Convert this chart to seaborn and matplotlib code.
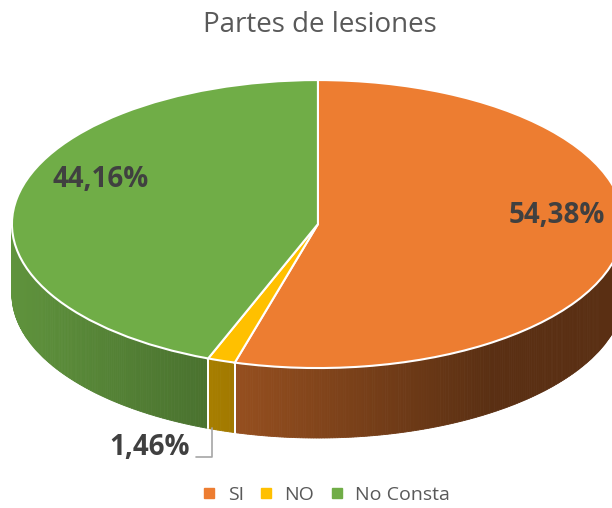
import numpy as np
import matplotlib.pyplot as plt
import seaborn as sns
from matplotlib.patches import Polygon
from matplotlib.lines import Line2D

# data
categories = ['SI', 'NO', 'No Consta']
shares = [54.38, 1.46, 44.16]
colors = ['#ED7D31', '#FFC000', '#70AD47']
label_pos = [(0.78, 0.06), (-0.55, -1.55), (-0.71, 0.31)]
title = 'Partes de lesiones'

sns.set_theme(style='white')
plt.rcParams['font.family'] = ['Open Sans', 'DejaVu Sans']

fig = plt.figure(figsize=(6.12, 5.08), dpi=100)
ax = fig.add_axes([0, 0, 1, 1])

depth = 0.486  # thickness of the "3D" pie, in y-radius units

# top face
wedges, _ = ax.pie(shares, colors=colors, startangle=90, counterclock=False, radius=1,
                   wedgeprops=dict(edgecolor='white', linewidth=1.5, zorder=3))


def shade(col, c):
    # darker towards the right, like Excel's lighting
    f = np.clip(0.55 - 0.3 * c, 0.38, 0.9)
    rgb = np.array(plt.matplotlib.colors.to_rgb(col))
    return tuple(rgb * f)


# side walls, only the front half (sin < 0) is visible
for w, col in zip(wedges, colors):
    ts = np.linspace(w.theta1, w.theta2, int((w.theta2 - w.theta1) * 2) + 2)
    for ta, tb in zip(ts[:-1], ts[1:]):
        ra, rb = np.radians(ta), np.radians(tb)
        if np.sin(ra) > 1e-9 or np.sin(rb) > 1e-9:
            continue
        pts = [(np.cos(ra), np.sin(ra)), (np.cos(rb), np.sin(rb)),
               (np.cos(rb), np.sin(rb) - depth), (np.cos(ra), np.sin(ra) - depth)]
        fc = shade(col, np.cos((ra + rb) / 2))
        ax.add_patch(Polygon(pts, closed=True, facecolor=fc, edgecolor=fc, lw=0.6, zorder=1))
    for t in (w.theta1, w.theta2):
        r = np.radians(t)
        if np.sin(r) < -0.05:
            ax.plot([np.cos(r), np.cos(r)], [np.sin(r), np.sin(r) - depth],
                    color='white', lw=1.3, zorder=2)

# data labels
for v, (lx, ly) in zip(shares, label_pos):
    ax.text(lx, ly, f'{v:.2f}%'.replace('.', ','), ha='center', va='center',
            fontsize=20, fontweight='bold', color='#404040', zorder=5)

# leader line for the small slice
no = wedges[1]
mid = np.radians((no.theta1 + no.theta2) / 2)
lx = np.cos(mid) - 0.03
ax.plot([lx, lx, -0.40], [np.sin(mid) - depth + 0.02, -1.62, -1.62],
        color='#A6A6A6', lw=1.2, zorder=4)

ax.set_aspect('auto')
ax.set_xlim(-1.039, 0.961)
ax.set_ylim(-1.972, 1.556)
ax.set_axis_off()

fig.text(0.522, 0.951, title, ha='center', va='center', fontsize=20, color='#595959')

handles = [Line2D([], [], marker='s', linestyle='', color=c, markersize=7) for c in colors]
fig.legend(handles, categories, loc='center', bbox_to_anchor=(0.533, 1 - 495 / 508),
           ncol=3, frameon=False, fontsize=14, handlelength=0.7, handletextpad=0.6,
           columnspacing=0.8, labelcolor='#595959')

fig.savefig('out.png', dpi=100)
